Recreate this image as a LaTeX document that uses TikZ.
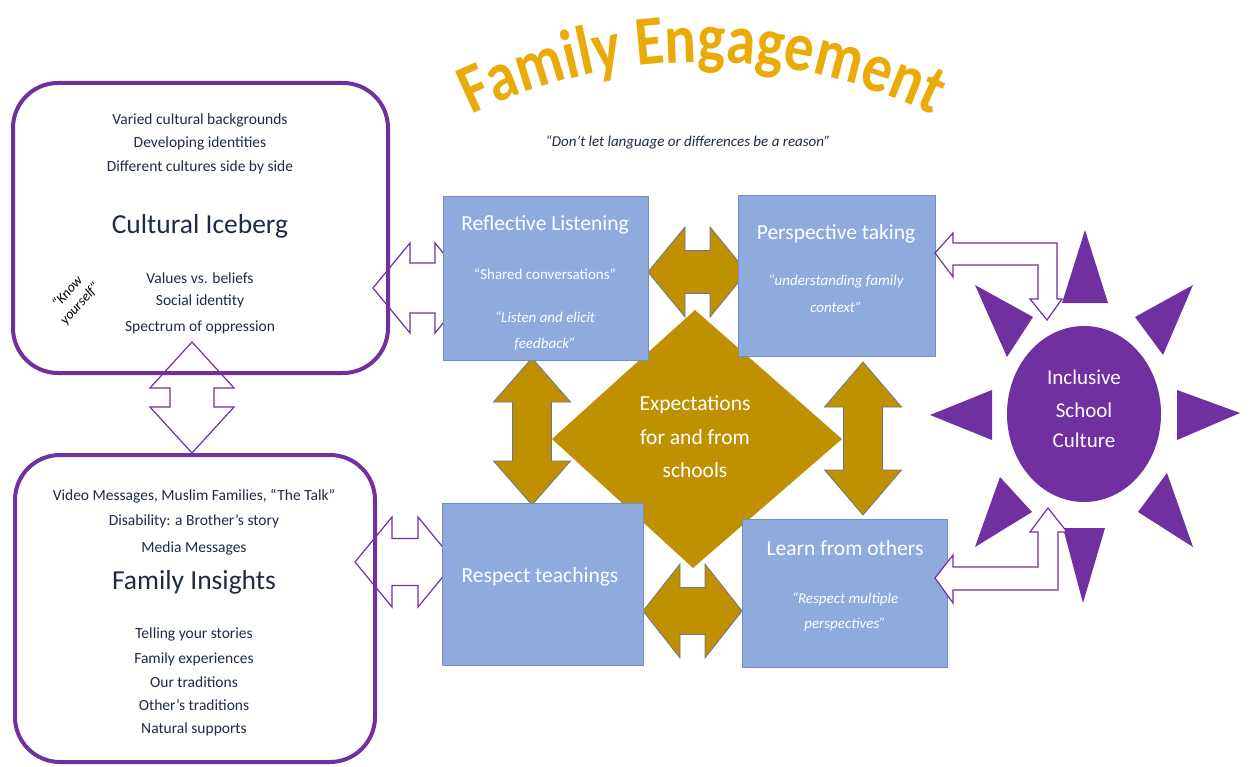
\documentclass[tikz,border=0pt]{standalone}
\usepackage{fontspec}
\setmainfont{Carlito}
\newfontfamily\titlefont{Carlito}[FakeStretch=0.84]
\usetikzlibrary{decorations.text}
\definecolor{pur}{HTML}{7030A0}
\definecolor{boxblue}{HTML}{8FAADC}
\definecolor{boxedge}{HTML}{6F8FC8}
\definecolor{ggold}{HTML}{BF9000}
\definecolor{goldedge}{HTML}{6A7590}
\definecolor{titlegold}{HTML}{EAAA08}
\definecolor{navy}{HTML}{1F2B45}
\newcommand\HDArrow[7]{% style, xl, xr, yc, headlen, halfhead, halfshaft
  \draw[#1] (#2,-#4) -- (#2+#5,-#4+#6) -- (#2+#5,-#4+#7) -- (#3-#5,-#4+#7) -- (#3-#5,-#4+#6) -- (#3,-#4)
    -- (#3-#5,-#4-#6) -- (#3-#5,-#4-#7) -- (#2+#5,-#4-#7) -- (#2+#5,-#4-#6) -- cycle;}
\newcommand\VDArrow[7]{% style, xc, yt, yb, headlen, halfhead, halfshaft
  \draw[#1] (#2,-#3) -- (#2+#6,-#3-#5) -- (#2+#7,-#3-#5) -- (#2+#7,-#4+#5) -- (#2+#6,-#4+#5) -- (#2,-#4)
    -- (#2-#6,-#4+#5) -- (#2-#7,-#4+#5) -- (#2-#7,-#3-#5) -- (#2-#6,-#3-#5) -- cycle;}
\tikzset{
  whitearrow/.style={fill=white, draw=pur, line width=1.2pt, line join=miter},
  goldarrow/.style={fill=ggold, draw=goldedge, line width=0.8pt},
  bluebox/.style={fill=boxblue, draw=boxedge, line width=1pt, inner sep=0pt, anchor=north west},
  purbox/.style={draw=pur, line width=4pt, rounded corners=45pt},
  small/.style={anchor=base, text=navy, font=\fontsize{15.5}{18}\selectfont},
  big/.style={anchor=base, text=navy, font=\fontsize{27.5}{32}\selectfont},
  btitle/.style={anchor=base, text=white, font=\fontsize{21.5}{25}\selectfont},
  bsub/.style={anchor=base, text=white, font=\fontsize{15}{18}\selectfont\itshape},
  bsubup/.style={anchor=base, text=white, font=\fontsize{15}{18}\selectfont},
  suntext/.style={anchor=base, text=white, font=\fontsize{21}{25}\selectfont},
}
\begin{document}
\begin{tikzpicture}[x=1pt,y=1pt]
\useasboundingbox (0,0) rectangle (1249,-767);
\fill[white] (0,0) rectangle (1249,-767);

% title on an arc
\path[decorate, decoration={text along path, text align=center,
  text={|\titlefont\fontsize{70}{70}\selectfont\bfseries\color{titlegold}|Family Engagement}}]
  ([shift={(121:530)}]702,-592) arc[start angle=121, end angle=59, radius=530];
\node[anchor=base, text=navy, font=\fontsize{15}{18}\selectfont\itshape] (quote) at (688,-147)
  {“Don’t let language or differences be a reason”};

% white double arrows (behind the purple boxes)
\VDArrow{whitearrow}{192}{342}{453}{46}{42}{22}
\HDArrow{whitearrow}{373}{472}{288}{37}{45}{25}
\HDArrow{whitearrow}{355}{455}{562}{37}{45}{23.5}

% purple rounded boxes
\draw[purbox] (13,-83) rectangle (388,-373);
\draw[purbox] (15,-455) rectangle (375,-762);

% top-left box text
\node[small] (t1) at (200,-125) {Varied cultural backgrounds};
\node[small] (t2) at (200,-148) {Developing identities};
\node[small] (t3) at (200,-172) {Different cultures side by side};
\node[big] (ice) at (200,-234) {Cultural Iceberg};
\node[small] (t4) at (200,-283) {Values vs. beliefs};
\node[small] (t5) at (200,-305) {Social identity};
\node[small] (t6) at (200,-331) {Spectrum of oppression};
\node[rotate=48, align=center, text=black, inner sep=0pt, font=\fontsize{14}{17}\selectfont\itshape] (know) at (74,-298) {“Know\\yourself”};

% bottom-left box text
\node[small] (b1) at (194,-500) {Video Messages, Muslim Families, “The Talk”};
\node[small] (b2) at (194,-525) {Disability: a Brother’s story};
\node[small] (b3) at (194,-552) {Media Messages};
\node[big] (ins) at (194,-589) {Family Insights};
\node[small] (b4) at (194,-638) {Telling your stories};
\node[small] (b5) at (194,-663) {Family experiences};
\node[small] (b6) at (194,-687) {Our traditions};
\node[small] (b7) at (194,-710) {Other’s traditions};
\node[small] (b8) at (194,-733) {Natural supports};

% gold double arrows
\HDArrow{goldarrow}{648}{747}{272}{37}{45}{21.5}
\HDArrow{goldarrow}{643}{742}{611}{37}{47}{23.5}
\VDArrow{goldarrow}{532}{358}{505}{44}{38.5}{19.5}
\VDArrow{goldarrow}{863}{362}{515}{45}{38.5}{19.5}

% central diamond
\fill[ggold] (695,-310) -- (842,-439) -- (693,-568) -- (552,-439) -- cycle;
\node[btitle] (ex1) at (695,-410) {Expectations};
\node[btitle] (ex2) at (695,-444) {for and from};
\node[btitle] (ex3) at (695,-477) {schools};

% blue boxes
\node[bluebox, minimum width=205pt, minimum height=164pt] (rl) at (443,-196) {};
\node[bluebox, minimum width=197pt, minimum height=161pt] (pt) at (738,-195) {};
\node[bluebox, minimum width=201pt, minimum height=162pt] (rt) at (442,-503) {};
\node[bluebox, minimum width=205pt, minimum height=148pt] (lf) at (742,-519) {};

\node[btitle] (rlt) at (545,-231) {Reflective Listening};
\node[bsubup] (rls) at (545,-279) {“Shared conversations”};
\node[bsub] (rl1) at (545,-322) {“Listen and elicit};
\node[bsub] (rl2) at (545,-348) {feedback”};

\node[btitle] (ptt) at (836,-240) {Perspective taking};
\node[bsub] (pt1) at (836,-285) {“understanding family};
\node[bsub] (pt2) at (836,-312) {context”};

\node[btitle] (rtt) at (540,-582) {Respect teachings};

\node[btitle] (lft) at (845,-555) {Learn from others};
\node[bsub] (lf1) at (845,-603) {“Respect multiple};
\node[bsub] (lf2) at (845,-628) {perspectives”};

% sun
\fill[pur] (1085,-230) -- (1062,-303) -- (1108,-303) -- cycle;
\fill[pur] (1193,-285) -- (1135,-317) -- (1163,-355) -- cycle;
\fill[pur] (1240,-413) -- (1177,-390) -- (1177,-440) -- cycle;
\fill[pur] (1193,-547) -- (1138,-512) -- (1167,-473) -- cycle;
\fill[pur] (1083,-603) -- (1063,-528) -- (1105,-528) -- cycle;
\fill[pur] (975,-547) -- (1000,-477) -- (1032,-512) -- cycle;
\fill[pur] (930,-415) -- (992,-390) -- (992,-440) -- cycle;
\fill[pur] (975,-285) -- (1033,-317) -- (1007,-357) -- cycle;
\fill[pur] (1084,-414) ellipse[x radius=77, y radius=88];
\node[suntext] (s1) at (1084,-384) {Inclusive};
\node[suntext] (s2) at (1084,-417) {School};
\node[suntext] (s3) at (1084,-447) {Culture};

% bent white arrows to the sun
\draw[whitearrow] (935,-253) -- (953,-233) -- (953,-243) -- (1057,-243) -- (1057,-299) -- (1062,-299)
  -- (1047,-320) -- (1030,-299) -- (1038,-299) -- (1038,-265) -- (953,-265) -- (953,-277) -- cycle;
\draw[whitearrow] (935,-578) -- (953,-555) -- (953,-567) -- (1038,-567) -- (1038,-532) -- (1030,-532)
  -- (1048,-508) -- (1067,-532) -- (1058,-532) -- (1058,-590) -- (953,-590) -- (953,-603) -- cycle;
\end{tikzpicture}
\end{document}
